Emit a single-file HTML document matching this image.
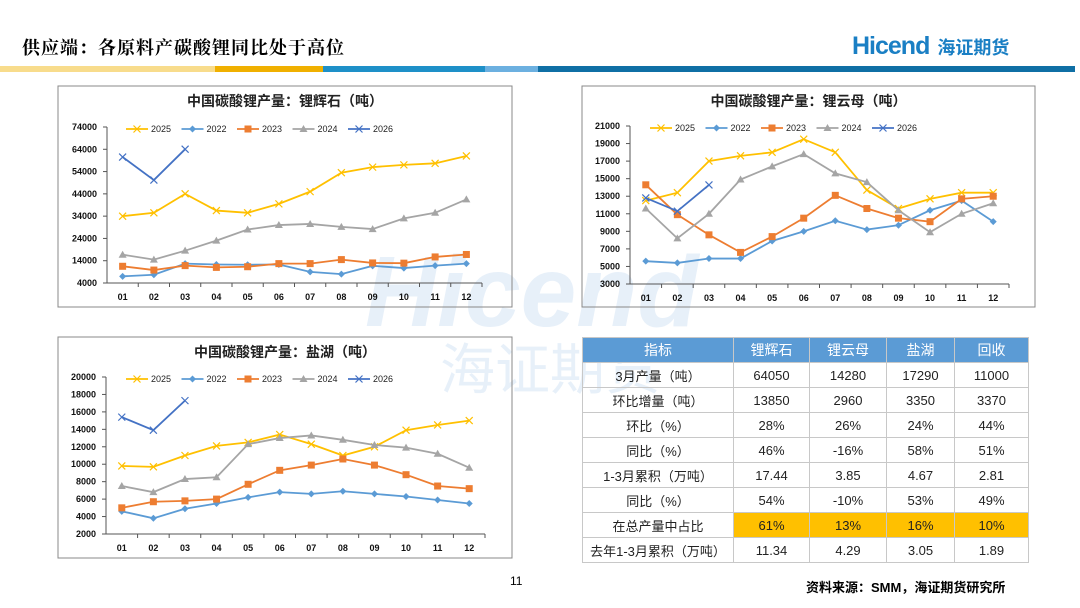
<!DOCTYPE html>
<html><head><meta charset="utf-8">
<style>
body{margin:0;width:1080px;height:608px;background:#fff;font-family:"Liberation Sans","Noto Sans CJK SC",sans-serif;position:relative;overflow:hidden}
.abs{position:absolute}
table{border-collapse:collapse;position:absolute;left:582px;top:337px;width:446px;font-size:13px;color:#222;table-layout:fixed}
td{border:1px solid #c8c8c8;text-align:center;height:24px;padding:0;white-space:nowrap}
th{background:#5B9BD5;color:#fff;font-weight:normal;height:24px;border:1px solid #c8c8c8;font-size:14px;padding:0}
.hl{background:#FFC000}
</style></head><body>
<div class="abs" style="left:22px;top:34px;font-size:18px;font-weight:bold;font-family:'Noto Serif CJK SC','Noto Sans CJK SC',serif;letter-spacing:1px">供应端：各原料产碳酸锂同比处于高位</div>
<div class="abs" style="left:852px;top:32px;font-size:25px;font-weight:bold;color:#1a7fc4;letter-spacing:-1px">Hicend<span style="font-size:18px;letter-spacing:0;margin-left:8px">海证期货</span></div>
<div class="abs" style="left:0;top:66px;height:6px;width:1075px;display:flex">
<div style="width:215px;background:#F8DC8C"></div><div style="width:108px;background:#F0B000"></div><div style="width:162px;background:#1E90C8"></div><div style="width:53px;background:#6CB0E0"></div><div style="flex:1;background:#0F6FA5"></div></div>
<div class="abs" style="left:365px;top:235px;font-size:100px;font-weight:bold;color:rgba(91,155,213,0.15);font-style:italic">Hicend</div>
<div class="abs" style="left:440px;top:325px;font-size:55px;color:rgba(91,155,213,0.15)">海证期货</div>
<svg id="svg" class="abs" style="left:0;top:0" width="1080" height="608"></svg>
<table>
<colgroup><col style="width:151px"><col style="width:76px"><col style="width:77px"><col style="width:68px"><col style="width:74px"></colgroup>
<tr><th>指标</th><th>锂辉石</th><th>锂云母</th><th>盐湖</th><th>回收</th></tr>
<tr><td>3月产量（吨）</td><td>64050</td><td>14280</td><td>17290</td><td>11000</td></tr>
<tr><td>环比增量（吨）</td><td>13850</td><td>2960</td><td>3350</td><td>3370</td></tr>
<tr><td>环比（%）</td><td>28%</td><td>26%</td><td>24%</td><td>44%</td></tr>
<tr><td>同比（%）</td><td>46%</td><td>-16%</td><td>58%</td><td>51%</td></tr>
<tr><td>1-3月累积（万吨）</td><td>17.44</td><td>3.85</td><td>4.67</td><td>2.81</td></tr>
<tr><td>同比（%）</td><td>54%</td><td>-10%</td><td>53%</td><td>49%</td></tr>
<tr><td>在总产量中占比</td><td class="hl">61%</td><td class="hl">13%</td><td class="hl">16%</td><td class="hl">10%</td></tr>
<tr><td>去年1-3月累积（万吨）</td><td>11.34</td><td>4.29</td><td>3.05</td><td>1.89</td></tr>
</table>
<div class="abs" style="left:510px;top:574px;font-size:12px">11</div>
<div class="abs" style="left:806px;top:577px;font-size:13px;font-weight:bold">资料来源：SMM，海证期货研究所</div>
<script>
const categories=["01","02","03","04","05","06","07","08","09","10","11","12"];
const seriesNames=["2025","2022","2023","2024","2026"];
const spod2025=[34000,35500,44000,36500,35500,39500,45000,53500,56000,57000,57700,61000];
const spod2022=[7000,7700,12700,12300,12200,12300,9000,8000,11700,10700,11800,12700];
const spod2023=[11500,9800,11800,11000,11300,12700,12700,14500,13000,12900,15700,16800];
const spod2024=[16700,14500,18500,23000,28000,30000,30500,29200,28200,33000,35500,41500];
const spod2026=[60500,50200,64050];
const lepi2025=[12500,13400,17000,17600,18000,19500,18000,13700,11600,12700,13400,13400];
const lepi2022=[5600,5400,5900,5900,7900,9000,10200,9200,9700,11400,12500,10100];
const lepi2023=[14300,10900,8600,6600,8400,10500,13100,11600,10500,10100,12700,13000];
const lepi2024=[11600,8200,11000,14900,16400,17800,15600,14600,11400,8900,11000,12200];
const lepi2026=[12800,11300,14280];
const brine2025=[9800,9700,11000,12100,12500,13400,12300,11000,12000,13900,14500,15000];
const brine2022=[4600,3800,4900,5500,6200,6800,6600,6900,6600,6300,5900,5500];
const brine2023=[5000,5700,5800,6000,7700,9300,9900,10600,9900,8800,7500,7200];
const brine2024=[7500,6800,8300,8500,12300,13000,13300,12800,12200,11900,11200,9600];
const brine2026=[15400,13900,17290];
const spodTicks=[4000,14000,24000,34000,44000,54000,64000,74000];
const lepiTicks=[3000,5000,7000,9000,11000,13000,15000,17000,19000,21000];
const brineTicks=[2000,4000,6000,8000,10000,12000,14000,16000,18000,20000];

const colors=["#FFC000","#5B9BD5","#ED7D31","#A5A5A5","#4472C4"];
const markers=["x","d","s","t","x"];
const svg=document.getElementById('svg');
const NS="http://www.w3.org/2000/svg";
function mk(tag,attrs,parent){const e=document.createElementNS(NS,tag);for(const k in attrs)e.setAttribute(k,attrs[k]);(parent||svg).appendChild(e);return e;}
function marker(g,type,x,y,c){
  if(type==="x"){mk('path',{d:`M${x-3.5},${y-3.5}L${x+3.5},${y+3.5}M${x-3.5},${y+3.5}L${x+3.5},${y-3.5}`,stroke:c,'stroke-width':1.2},g);}
  else if(type==="d"){mk('path',{d:`M${x},${y-3.5}L${x+3.5},${y}L${x},${y+3.5}L${x-3.5},${y}Z`,fill:c},g);}
  else if(type==="s"){mk('rect',{x:x-3.5,y:y-3.5,width:7,height:7,fill:c},g);}
  else {mk('path',{d:`M${x},${y-4}L${x+4},${y+3}L${x-4},${y+3}Z`,fill:c},g);}
}
function chart(name,box,title,ax,ticks,series){
  const g=mk('g',{});
  
  
  mk('rect',{x:box[0],y:box[1],width:box[2],height:box[3],fill:'none',stroke:'#888','stroke-width':1},g);
  const t=mk('text',{x:box[0]+box[2]/2,y:box[1]+20,'text-anchor':'middle','font-size':14,'font-weight':'bold',fill:'#222'},g);
  t.textContent=title;
  const [x0,x1,yt,yb]=ax;const mn=ticks[0],mx=ticks[ticks.length-1];
  const Y=v=>yb-(v-mn)/(mx-mn)*(yb-yt);
  const bw=(x1-x0)/categories.length;const X=i=>x0+bw*(i+0.5);
  mk('line',{x1:x0,y1:yt,x2:x0,y2:yb,stroke:'#555'},g);
  mk('line',{x1:x0,y1:yb,x2:x1,y2:yb,stroke:'#555'},g);
  ticks.forEach(v=>{mk('line',{x1:x0-4,y1:Y(v),x2:x0,y2:Y(v),stroke:'#555'},g);
    const l=mk('text',{x:x0-10,y:Y(v)+3,'text-anchor':'end','font-size':9,'font-weight':'bold',fill:'#111'},g);l.textContent=v;});
  categories.forEach((c,i)=>{mk('line',{x1:x0+bw*(i+1),y1:yb,x2:x0+bw*(i+1),y2:yb+4,stroke:'#555'},g);
    const l=mk('text',{x:X(i),y:yb+17,'text-anchor':'middle','font-size':9,'font-weight':'bold',fill:'#111'},g);l.textContent=c;});
  series.forEach((s,k)=>{
    const sg=mk('g',{},g);
    
    
    mk('polyline',{points:s.map((v,i)=>X(i)+','+Y(v)).join(' '),fill:'none',stroke:colors[k],'stroke-width':1.8},sg);
    s.forEach((v,i)=>marker(sg,markers[k],X(i),Y(v),colors[k]));
  });
  const lx=box[0]+68, ly=yt+2;
  seriesNames.forEach((n,k)=>{
    const lg=mk('g',{},g);
    
    
    const x=lx+k*55.5;
    mk('line',{x1:x,y1:ly,x2:x+22,y2:ly,stroke:colors[k],'stroke-width':1.8},lg);
    marker(lg,markers[k],x+11,ly,colors[k]);
    const tt=mk('text',{x:x+25,y:ly+3,'font-size':9,fill:'#222'},lg);tt.textContent=n;
  });
}
chart('spodumene-chart',[58,86,454,221],'中国碳酸锂产量：锂辉石（吨）',[107,482,127,283],spodTicks,[spod2025,spod2022,spod2023,spod2024,spod2026]);
chart('lepidolite-chart',[582,86,453,221],'中国碳酸锂产量：锂云母（吨）',[630,1009,126,284],lepiTicks,[lepi2025,lepi2022,lepi2023,lepi2024,lepi2026]);
chart('brine-chart',[58,337,454,221],'中国碳酸锂产量：盐湖（吨）',[106,485,377,534],brineTicks,[brine2025,brine2022,brine2023,brine2024,brine2026]);
</script>
</body></html>
